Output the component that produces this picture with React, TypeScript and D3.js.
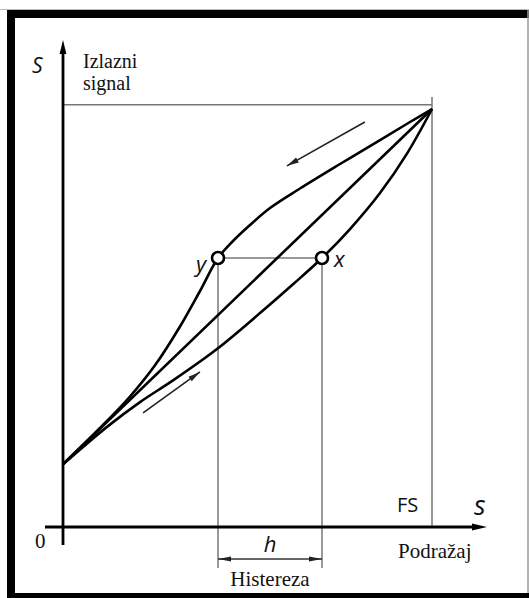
import React from "react";
import * as d3 from "d3";

// ---- data (units: stimulus 0..100 = FS, output 0..100 = full scale) ----
const upperX = [0, 10.03, 18.16, 24.93, 31.71, 37.13, 42.01, 46.07, 50.68, 56.1, 64.23, 75.07, 85.91, 94.04, 100];
const upperY = [15, 23.68, 31.22, 38.68, 47.97, 56.46, 64.35, 68.42, 72.25, 76.32, 80.98, 86.84, 92.58, 96.89, 100];
const lowerX = [0, 11.92, 20.87, 29.81, 41.73, 53.39, 62.33, 70.19, 77.78, 85.91, 93.22, 100];
const lowerY = [15, 23.95, 29.88, 35.07, 42.58, 51.17, 58.06, 64.35, 71.29, 79.9, 89.33, 100];
const middleX = [0, 100];
const middleY = [15, 100];
const pointNames = ["y", "x"];
const pointX = [42.01, 70.19];
const pointY = [64.35, 64.35];
const fsValue = 100;
const fullOutput = 101;
const arrowDown = [[81.8, 96.9], [60.7, 86.4]];
const arrowUp = [[21.7, 27.3], [37.1, 37.1]];

const W = 529;
const H = 598;

export default function App() {
  const x = d3.scaleLinear().domain([0, 100]).range([63, 432]);
  const y = d3.scaleLinear().domain([0, 100]).range([527, 109]);

  const line = d3
    .line<[number, number]>()
    .x((d) => x(d[0]))
    .y((d) => y(d[1]))
    .curve(d3.curveCatmullRom.alpha(0.5));

  const upper = upperX.map((v, i) => [v, upperY[i]] as [number, number]);
  const lower = lowerX.map((v, i) => [v, lowerY[i]] as [number, number]);
  const middle = middleX.map((v, i) => [v, middleY[i]] as [number, number]);

  const gray = "#777";
  const serif = "'Liberation Serif', 'Times New Roman', serif";
  const sans = "'Open Sans', 'DejaVu Sans', sans-serif";

  const head = (x1: number, y1: number, x2: number, y2: number, len: number, wid: number) => {
    const a = Math.atan2(y2 - y1, x2 - x1);
    const bx = x2 - len * Math.cos(a);
    const by = y2 - len * Math.sin(a);
    const px = -Math.sin(a) * wid;
    const py = Math.cos(a) * wid;
    return `M${x2},${y2}L${bx + px},${by + py}L${bx - px},${by - py}Z`;
  };

  const x0 = x(0);
  const y0 = y(0);
  const yAxisTop = 40;
  const xAxisEnd = 487;
  const dimY = 559;
  const vBottom = 568;

  const smallArrow = (pts: number[][], key: string) => {
    const [a, b] = pts;
    const x1 = x(a[0]), y1 = y(a[1]), x2 = x(b[0]), y2 = y(b[1]);
    return (
      <g key={key}>
        <line x1={x1} y1={y1} x2={x2} y2={y2} stroke="#222" strokeWidth={1.6} />
        <path d={head(x1, y1, x2, y2, 12, 2.8)} fill="#222" />
      </g>
    );
  };

  return (
    <svg
      width={W}
      height={H}
      style={{ position: "absolute", left: 0, top: 0, background: "#fff" }}
    >
      {/* frame */}
      <rect x={0} y={0} width={W} height={H} fill="#fff" />
      <line x1={0} y1={9.5} x2={W} y2={9.5} stroke="#bbb" strokeWidth={1} />
      <rect x={7} y={10} width={W - 7} height={8} fill="#000" />
      <rect x={7} y={10} width={8} height={H - 10} fill="#000" />
      <rect x={7} y={593} width={W - 7} height={5} fill="#000" />
      <line x1={528} y1={10} x2={528} y2={593} stroke="#999" strokeWidth={1.5} />

      {/* gray guide lines */}
      <line x1={x0} y1={y(fullOutput)} x2={x(fsValue)} y2={y(fullOutput)} stroke={gray} strokeWidth={1.5} />
      <line x1={x(fsValue)} y1={97} x2={x(fsValue)} y2={y0} stroke={gray} strokeWidth={1.5} />
      <line x1={x(pointX[0])} y1={y(pointY[0])} x2={x(pointX[1])} y2={y(pointY[1])} stroke={gray} strokeWidth={1.5} />
      {pointX.map((v, i) => (
        <line key={"v" + i} x1={x(v)} y1={y(pointY[i])} x2={x(v)} y2={vBottom} stroke={gray} strokeWidth={1.5} />
      ))}

      {/* dimension h */}
      <line x1={x(pointX[0])} y1={dimY} x2={x(pointX[1])} y2={dimY} stroke="#333" strokeWidth={1.4} />
      <path d={head(x(pointX[1]), dimY, x(pointX[0]), dimY, 13, 2.6)} fill="#222" />
      <path d={head(x(pointX[0]), dimY, x(pointX[1]), dimY, 13, 2.6)} fill="#222" />

      {/* axes */}
      <line x1={x0} y1={545} x2={x0} y2={yAxisTop + 8} stroke="#000" strokeWidth={2.8} />
      <path d={head(x0, 80, x0, yAxisTop, 14, 3.4)} fill="#000" />
      <line x1={45} y1={y0} x2={xAxisEnd - 8} y2={y0} stroke="#000" strokeWidth={2.8} />
      <path d={head(440, y0, xAxisEnd, y0, 15, 3.4)} fill="#000" />

      {/* curves */}
      <path d={line(middle) || ""} fill="none" stroke="#000" strokeWidth={2.6} />
      <path d={line(upper) || ""} fill="none" stroke="#000" strokeWidth={2.6} strokeLinejoin="round" />
      <path d={line(lower) || ""} fill="none" stroke="#000" strokeWidth={2.6} strokeLinejoin="round" />

      {/* direction arrows */}
      {smallArrow(arrowDown, "ad")}
      {smallArrow(arrowUp, "au")}

      {/* points */}
      {pointX.map((v, i) => (
        <circle key={"c" + i} cx={x(v)} cy={y(pointY[i])} r={6} fill="#fff" stroke="#000" strokeWidth={2.6} />
      ))}
      <text x={x(pointX[0]) - 12} y={272} textAnchor="end" fontFamily={sans} fontStyle="italic" fontSize={22} fill="#111">
        {pointNames[0]}
      </text>
      <text x={x(pointX[1]) + 12} y={267} textAnchor="start" fontFamily={sans} fontStyle="italic" fontSize={22} fill="#111">
        {pointNames[1]}
      </text>

      {/* labels */}
      <text x={32} y={73} fontFamily={sans} fontStyle="italic" fontSize={21} fill="#111">S</text>
      <text x={83} y={68} fontFamily={serif} fontSize={20} fill="#111">Izlazni</text>
      <text x={83} y={90} fontFamily={serif} fontSize={20} fill="#111">signal</text>
      <text x={35} y={548} fontFamily={serif} fontSize={21} fill="#111">0</text>
      <text x={397} y={512} fontFamily={sans} fontSize={20} fill="#111">FS</text>
      <text x={474} y={515} fontFamily={sans} fontStyle="italic" fontSize={27} fill="#111">s</text>
      <text x={398} y={558} fontFamily={serif} fontSize={21} fill="#111">Podražaj</text>
      <text x={(x(pointX[0]) + x(pointX[1])) / 2} y={552} textAnchor="middle" fontFamily={sans} fontStyle="italic" fontSize={22} fill="#111">h</text>
      <text x={(x(pointX[0]) + x(pointX[1])) / 2} y={586} textAnchor="middle" fontFamily={serif} fontSize={21} fill="#111">Histereza</text>
    </svg>
  );
}
